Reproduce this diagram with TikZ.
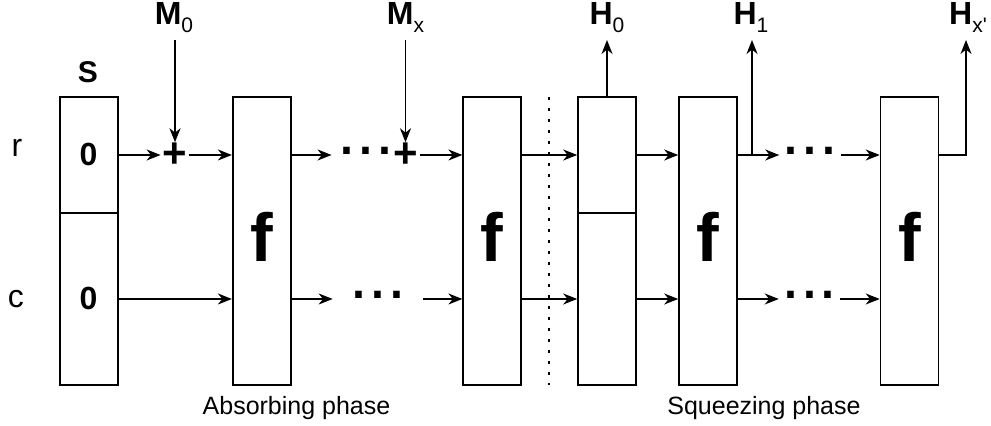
\documentclass[tikz,border=0pt]{standalone}
\usepackage{fontspec}
\setmainfont{Liberation Sans}
\usetikzlibrary{arrows.meta}
\newcommand\lblsub[2]{\textbf{#1}\raisebox{-4pt}{\fontsize{10.5}{12}\selectfont\mdseries #2}}
\begin{document}
\begin{tikzpicture}[x=0.5pt,y=-0.5pt,
  line/.style={line width=0.8pt},
  arr/.style={line width=0.8pt,-{Stealth[length=7pt,width=5.5pt,inset=2.2pt]}},
  blk/.style={draw, line width=0.8pt, minimum width=29pt, minimum height=144pt, inner sep=0},
  ftxt/.style={font=\fontsize{34}{36}\selectfont\bfseries},
  lbl/.style={font=\fontsize{12.5}{15}\selectfont, inner sep=0, anchor=base},
  rclbl/.style={font=\fontsize{16}{19}\selectfont, inner sep=0, anchor=base},
  slbl/.style={font=\fontsize{15}{18}\selectfont\bfseries, inner sep=0, anchor=base},
  zerolbl/.style={font=\fontsize{16}{19}\selectfont\bfseries, inner sep=0, anchor=base},
  outlbl/.style={font=\fontsize{16}{19}\selectfont, inner sep=0, anchor=base},
  plusnode/.style={font=\fontsize{21}{24}\selectfont\bfseries, minimum width=14pt, minimum height=10pt, inner sep=0},
  dotsnode/.style={font=\fontsize{34}{36}\selectfont, inner ysep=0, anchor=base},
]
\path[fill=white] (0,0) rectangle (991,426);
\useasboundingbox (0,0) rectangle (991,426);

% row references
\coordinate (rowR) at (0,155);
\coordinate (rowC) at (0,299);
\coordinate (divY) at (0,213);

% boxes
\node[blk] (s) at (89.2,241) {};
\node[blk,ftxt,text depth=4pt] (f1) at (261.7,241) {f};
\node[blk,ftxt,text depth=4pt] (f2) at (492.2,241) {f};
\node[blk] (h0b) at (607,241) {};
\node[blk,ftxt,text depth=4pt] (f3) at (708,241) {f};
\node[blk,ftxt,text depth=4pt] (f4) at (909.5,241) {f};

\draw[line] (s.west|-divY) -- (s.east|-divY);
\draw[line] (h0b.west|-divY) -- (h0b.east|-divY);

% texts in S
\node[slbl] (slab) at (88,83) {S};
\node[zerolbl] (z1) at (88.5,166) {0};
\node[zerolbl] (z2) at (88.5,310) {0};

% row labels
\node[rclbl] (rl) at (17,157) {r};
\node[rclbl] (cl) at (16,308) {c};

% plus nodes
\node[plusnode] (p1) at (175,155) {+};
\node[plusnode] (p2) at (405.5,155) {+};

% dots
\node[dotsnode, inner xsep=3pt] (d1) at (366.3,155) {...};
\node[dotsnode, inner xsep=1pt] (d3) at (810,155) {...};
\node[dotsnode, inner xsep=8.3pt] (d2) at (378,299) {...};
\node[dotsnode, inner xsep=1pt] (d4) at (809.5,299) {...};

% top labels
\node[outlbl] (m0) at (174,25) {\lblsub{M}{0}};
\node[outlbl] (mx) at (405.5,25) {\lblsub{M}{x}};
\node[outlbl] (h0l) at (607,25) {\lblsub{H}{0}};
\node[outlbl] (h1l) at (751,25) {\lblsub{H}{1}};
\node[outlbl] (hxl) at (968,25) {\lblsub{H}{x\textquotesingle}};

\coordinate (m0a) at (175,40);
\coordinate (mxa) at (405.5,40);
\coordinate (h0) at (607,40);
\coordinate (j1) at (752,155);
\coordinate (h1) at (752,40);
\coordinate (hx) at (966,40);

% phase labels
\node[lbl] (abs) at (296.5,415) {Absorbing phase};
\node[lbl] (sqz) at (764,415) {Squeezing phase};

% dotted separator
\coordinate (dvt) at (549,97);
\coordinate (dvb) at (549,385);
\draw[line width=1.3pt, dash pattern=on 1.4pt off 4.1pt] (dvt) -- (dvb);

% top row connectors
\draw[arr] (s.east|-rowR) -- (p1.west);
\draw[arr] (p1.east) -- (p1.east-|f1.west);
\draw[arr] (f1.east|-rowR) -- (d1.west|-rowR);
\draw[arr] (p2.east) -- (p2.east-|f2.west);
\draw[arr] (f2.east|-rowR) -- (h0b.west|-rowR);
\draw[arr] (h0b.east|-rowR) -- (f3.west|-rowR);
\draw[arr] (f3.east|-rowR) -- (d3.west|-rowR);
\draw[arr] (d3.east|-rowR) -- (f4.west|-rowR);
\draw[arr] (f4.east|-rowR) -| (hx);
\draw[arr] (j1) -- (h1);
\draw[arr] (h0b.north) -- (h0);
\draw[arr] (m0a) -- (p1.north);
\draw[arr] (mxa) -- (p2.north);

% bottom row connectors
\draw[arr] (s.east|-rowC) -- (f1.west|-rowC);
\draw[arr] (f1.east|-rowC) -- (d2.west|-rowC);
\draw[arr] (d2.east|-rowC) -- (f2.west|-rowC);
\draw[arr] (f2.east|-rowC) -- (h0b.west|-rowC);
\draw[arr] (h0b.east|-rowC) -- (f3.west|-rowC);
\draw[arr] (f3.east|-rowC) -- (d4.west|-rowC);
\draw[arr] (d4.east|-rowC) -- (f4.west|-rowC);
\end{tikzpicture}
\end{document}
